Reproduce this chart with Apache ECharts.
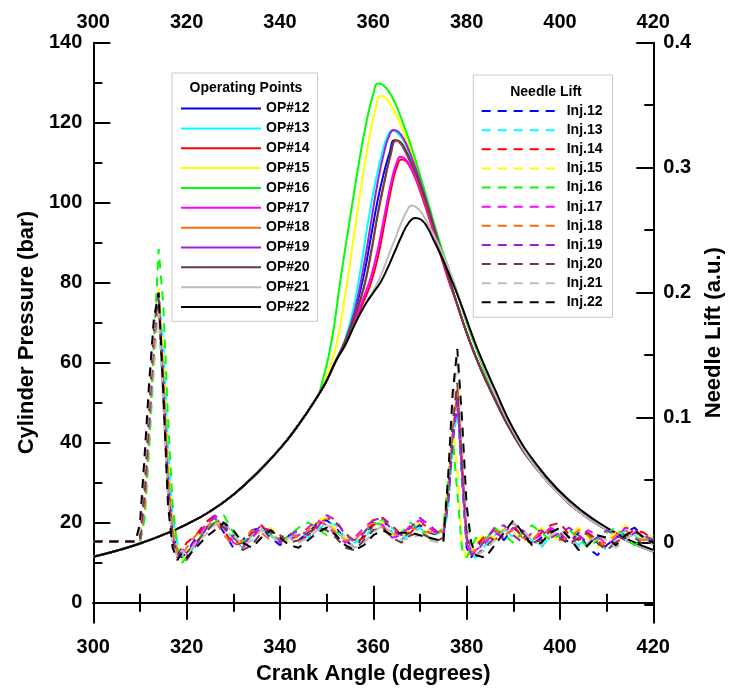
<!DOCTYPE html>
<html>
<head>
<meta charset="utf-8">
<script src="https://cdn.jsdelivr.net/npm/echarts@6/dist/echarts.min.js"></script>
<style>html,body{margin:0;padding:0;background:#fff}#chart{width:730px;height:691px}</style>
</head>
<body>
<div id="chart"></div>
<script>
// ---------- tick labels ----------
const xTicks = [300, 320, 340, 360, 380, 400, 420];
const leftTicks = [0, 20, 40, 60, 80, 100, 120, 140];
const leftMinorTicks = [10, 30, 50, 70, 90, 110, 130];
const rightTicks = [0, 0.1, 0.2, 0.3, 0.4];
const rightMinorTicks = [-0.05, 0.05, 0.15, 0.25, 0.35];

// ---------- cylinder pressure (bar) ----------
const opNames = ['OP#12','OP#13','OP#14','OP#15','OP#16','OP#17','OP#18','OP#19','OP#20','OP#21','OP#22'];
const opColors = ['#0000ff','#00ffff','#ff0000','#ffff00','#00ff00','#ff00ff','#ff6a10','#a020d8','#6b3c3c','#bdbdbd','#000000'];

// shared compression stroke
const compAngle = [300, 305, 310, 315, 320, 325, 330, 335, 340, 344, 348];
const compP     = [11.5, 13, 14.8, 17, 19.6, 22.8, 27, 32.3, 38.5, 44.5, 51.5];
// shared expansion stroke
const expAngle = [378, 380, 383, 386, 390, 395, 400, 405, 410, 415, 420];
const expP     = [74.5, 67.5, 58.5, 51, 42, 33.5, 27, 22, 18.3, 15.2, 12.8];

const op12Angle = [350,352,354,356,358,359.5,361,362.5,363.5,364.5,365.5,367,368.5,370,372,374,376];
const op12P     = [55.5,60.5,65.5,72.5,82,91.5,101,108.5,112.5,115.6,115.2,112.5,108.5,104,97,89.5,81.5];
const op13Angle = [350,352,354,356,357.5,359,360.5,362,363,364,365,366.5,368,370,372,374,376];
const op13P     = [55.5,60.5,66,75,85,96,105.5,113,116.5,118,117.6,115.5,111.5,105,97.5,89.5,81.5];
const op14Angle = [350,352,354,356,358,359.5,361,362.5,364,365,366,367,368.5,370,372,374,376];
const op14P     = [55.5,60.5,64.5,70,75.5,80,86.5,95.5,104.5,108.8,110.8,110.4,107.5,103,96,88.5,81];
const op15Angle = [350,352,354,356,358,359.5,360.5,361.5,362.5,364,366,368,370,372,374,376];
const op15P     = [56.5,64,77,93,108.5,118.5,123.5,126.7,126.4,124,119,113,106,98,90,82.5];
const op16Angle = [349,351,353,355,357,358.5,360,361,362,364,366,368,370,372,374,376,378,380,383];
const op16P     = [55,65,81,96,110.5,120,127.2,129.8,129.5,126.5,121,114.5,107,99,91,84,77.5,70,60.5];
const op17Angle = [350,352,354,356,358,359.5,361,362.5,364,365,365.8,366.8,368,370,372,374,376];
const op17P     = [55.5,60.5,65,70.5,76.5,81.5,88.5,97.5,106,110,111.5,111,109,103.5,96.5,89,81.5];
const op18Angle = [350,352,354,356,358,359.5,361,362.5,363.7,364.8,365.8,367,368.5,370,372,374,376];
const op18P     = [55.5,60.5,65.5,71.5,78.8,87.2,97.2,105.7,111.8,115.4,115,112.8,108.8,104.3,97.4,90,82];
const op19Angle = [350,352,354,356,358,359.5,361,362.5,363.5,364.3,365.3,366.5,368,370,372,374,376];
const op19P     = [55.5,60.5,65.5,73,84.5,95,105.5,113.5,117,118.2,117.8,116,112,105.5,98,90,82];
const op20Angle = [350,352,354,356,358,359.5,361,362.5,363.7,364.8,365.8,367,368.5,370,372,374,376];
const op20P     = [55.5,60.5,65.5,71.5,79,87.5,97.5,106,112,115.6,115.2,113,109,104.5,97.5,90,82];
const op21Angle = [350,352,354,356,358,360,361.5,363,364.5,366,367.2,368.2,369.2,370.5,372,374,376,378,380,383,386,390];
const op21P     = [55.5,60.5,64.5,69.5,74,78,81.5,86,90.5,95,98,99.3,98.9,97.2,94,89.5,84,77.5,70.5,61,52.5,42.8];
const op22Angle = [350,352,354,356,358,360,361.5,363,364.5,366,367.5,369,370.2,371.5,373,375,377,379,381,383,386,390,395,400,405,410,415,420];
const op22P     = [55.5,60.5,64.5,69.5,74,77.5,80,83.5,87.5,91.5,94.8,96.2,95.8,94,90.5,85.5,80,74,67.5,61.5,53.5,43.5,34.5,27.8,22.7,18.8,15.6,13.2];

const opAngles = [op12Angle,op13Angle,op14Angle,op15Angle,op16Angle,op17Angle,op18Angle,op19Angle,op20Angle,op21Angle,op22Angle];
const opPress  = [op12P,op13P,op14P,op15P,op16P,op17P,op18P,op19P,op20P,op21P,op22P];

// ---------- needle lift (a.u.) ----------
const injNames = ['Inj.12','Inj.13','Inj.14','Inj.15','Inj.16','Inj.17','Inj.18','Inj.19','Inj.20','Inj.21','Inj.22'];
const needleAngle = [300,309,310,311,312,313,314,315,316,317,318,319,320,
  322,324,326,328,330,332,334,336,338,340,342,344,346,348,350,352,354,356,358,360,362,364,366,368,370,372,374,
  375,376,377,378,379,380,381,382,
  384,386,388,390,392,394,396,398,400,402,404,406,408,410,412,414,416,418,420];

const inj12 = [0.001,0.001,0.002,0.03,0.09,0.15,0.2,0.14,0.06,0.012,-0.005,-0.012,-0.008,
  0.004,0.014,0.02,0.008,-0.004,0.002,0.01,0.012,0.004,-0.002,0.006,0.002,0.008,0.016,0.018,0.012,0.002,-0.004,0.006,0.016,0.018,0.008,0.002,0.01,0.014,0.008,0.006,
  0.008,0.03,0.08,0.112,0.05,-0.004,-0.012,-0.004,
  0.004,0.01,0.002,0.012,0.006,-0.002,0.004,0.01,0.006,0.0,0.008,-0.004,-0.01,-0.002,0.004,0.008,0.012,0.004,0.0];
const inj13 = [0.001,0.001,0.001,0.02,0.08,0.14,0.195,0.16,0.075,0.02,0.0,-0.01,-0.014,
  0.0,0.01,0.018,0.014,0.002,-0.004,0.006,0.012,0.008,0.002,0.004,0.008,0.004,0.01,0.016,0.014,0.004,0.0,0.004,0.012,0.018,0.012,0.004,0.006,0.012,0.004,0.002,
  0.004,0.025,0.075,0.11,0.055,0.0,-0.01,-0.012,
  -0.002,0.006,0.012,0.004,0.01,0.002,-0.004,0.006,0.012,0.004,-0.002,0.006,0.0,-0.006,0.002,0.01,0.006,0.0,0.004];
const inj14 = [0.001,0.001,0.002,0.03,0.095,0.16,0.2,0.13,0.05,0.008,-0.012,-0.006,0.0,
  0.006,0.016,0.022,0.01,-0.002,0.0,0.008,0.014,0.006,0.0,0.004,0.0,0.006,0.014,0.02,0.016,0.008,0.0,0.004,0.014,0.02,0.014,0.006,0.008,0.016,0.012,0.008,
  0.01,0.04,0.095,0.125,0.065,0.004,-0.008,-0.002,
  0.006,0.002,0.01,0.014,0.004,0.0,0.008,0.014,0.016,0.006,0.002,0.008,0.002,-0.004,0.0,0.006,0.01,0.008,0.002];
const inj15 = [0.001,0.001,0.001,0.025,0.085,0.15,0.205,0.15,0.065,0.015,-0.006,-0.014,-0.01,
  0.002,0.012,0.02,0.016,0.004,-0.002,0.004,0.01,0.012,0.004,0.0,0.006,0.01,0.018,0.02,0.01,0.004,0.002,0.01,0.02,0.016,0.006,0.004,0.012,0.016,0.01,0.006,
  0.01,0.045,0.09,0.06,0.0,-0.014,-0.008,0.0,
  0.008,0.004,0.012,0.008,0.0,0.006,0.012,0.006,0.0,0.006,0.012,0.004,-0.004,0.002,0.008,0.014,0.008,0.002,0.006];
const inj16 = [0.001,0.001,0.0,0.02,0.08,0.16,0.235,0.19,0.1,0.03,-0.004,-0.016,-0.012,
  0.0,0.01,0.016,0.022,0.008,0.0,0.006,0.01,0.006,0.0,0.006,0.012,0.016,0.012,0.006,0.008,0.004,0.002,0.008,0.016,0.014,0.004,0.008,0.016,0.01,0.004,0.008,
  0.012,0.05,0.085,0.04,-0.005,-0.012,-0.004,0.004,
  0.002,0.012,0.006,0.0,0.008,0.014,0.008,0.002,0.006,0.01,0.004,-0.004,0.002,0.008,0.012,0.004,-0.002,0.004,0.002];
const inj17 = [0.001,0.001,0.002,0.035,0.1,0.165,0.19,0.12,0.045,0.006,-0.01,-0.004,-0.01,
  0.002,0.014,0.02,0.012,0.0,-0.004,0.004,0.012,0.01,0.002,0.002,0.006,0.012,0.018,0.014,0.006,0.0,0.004,0.012,0.018,0.014,0.004,0.006,0.014,0.018,0.012,0.006,
  0.006,0.035,0.085,0.118,0.06,0.0,-0.01,-0.006,
  0.0,0.008,0.004,0.012,0.01,0.002,0.006,0.012,0.008,0.0,0.004,0.01,0.006,-0.002,0.004,0.012,0.01,0.004,0.0];
const inj18 = [0.001,0.001,0.001,0.028,0.092,0.155,0.198,0.135,0.055,0.01,-0.008,-0.01,-0.004,
  0.006,0.012,0.018,0.006,-0.002,0.002,0.01,0.008,0.002,0.004,0.008,0.004,0.01,0.016,0.016,0.008,0.002,0.002,0.01,0.016,0.012,0.006,0.008,0.012,0.01,0.008,0.01,
  0.008,0.035,0.09,0.12,0.062,0.002,-0.008,-0.006,
  0.004,0.01,0.006,0.01,0.004,0.002,0.01,0.008,0.002,0.004,0.01,0.006,-0.002,0.0,0.006,0.01,0.004,0.002,0.004];
const inj19 = [0.001,0.001,0.002,0.04,0.105,0.17,0.2,0.125,0.045,0.004,-0.012,-0.008,-0.014,
  -0.002,0.01,0.022,0.016,0.004,-0.002,0.006,0.014,0.008,0.0,0.006,0.01,0.006,0.012,0.022,0.018,0.006,0.002,0.008,0.018,0.02,0.01,0.006,0.012,0.02,0.014,0.008,
  0.006,0.03,0.08,0.115,0.058,0.004,-0.01,-0.008,
  0.002,0.012,0.014,0.006,0.0,0.008,0.01,0.004,0.008,0.012,0.006,0.0,0.004,0.01,0.006,0.002,0.008,0.006,0.002];
const inj20 = [0.001,0.001,0.004,0.045,0.11,0.175,0.195,0.115,0.04,0.002,-0.01,-0.004,-0.008,
  0.0,0.008,0.016,0.012,0.006,-0.006,-0.002,0.008,0.01,0.006,0.0,0.002,0.008,0.012,0.01,0.004,-0.004,-0.006,0.002,0.01,0.012,0.004,0.0,0.006,0.008,0.004,0.002,
  0.004,0.04,0.095,0.128,0.07,0.01,-0.006,-0.01,
  -0.004,0.004,0.01,0.016,0.008,0.0,0.002,0.01,0.004,-0.002,0.004,0.008,0.0,-0.006,0.0,0.006,0.004,-0.002,0.002];
const inj21 = [0.001,0.001,0.01,0.06,0.12,0.175,0.185,0.11,0.035,0.0,-0.012,-0.006,-0.01,
  0.0,0.006,0.014,0.018,0.006,-0.002,0.002,0.01,0.006,0.0,0.004,0.0,0.004,0.01,0.014,0.01,0.002,-0.004,0.0,0.008,0.014,0.008,0.002,0.004,0.006,0.002,0.0,
  0.0,0.045,0.11,0.148,0.09,0.02,-0.004,-0.01,
  -0.006,0.002,0.01,0.016,0.01,0.002,-0.002,0.006,0.01,0.004,-0.004,0.0,0.006,0.002,-0.004,0.002,0.008,0.004,-0.002];
const inj22 = [0.001,0.001,0.015,0.07,0.13,0.18,0.2,0.12,0.03,-0.004,-0.014,-0.008,-0.012,
  -0.004,0.004,0.01,0.016,0.01,0.0,-0.004,0.004,0.01,0.004,-0.002,-0.004,0.002,0.008,0.012,0.006,-0.002,-0.006,-0.002,0.006,0.01,0.006,0.008,0.008,0.006,0.004,0.002,
  0.0,0.05,0.12,0.155,0.1,0.03,0.0,-0.01,
  -0.012,-0.002,0.008,0.018,0.008,-0.002,0.0,0.008,0.012,0.004,-0.006,-0.002,0.006,0.004,-0.002,0.006,0.01,0.004,0.0];
const injValues = [inj12,inj13,inj14,inj15,inj16,inj17,inj18,inj19,inj20,inj21,inj22];

// ---------- build ----------
const FONT = '"Liberation Sans", Arial, Helvetica, sans-serif';

function pressurePoints(a, p) {
  const pts = [];
  compAngle.forEach((x, i) => { if (x < a[0]) pts.push([x, compP[i]]); });
  a.forEach((x, i) => pts.push([x, p[i]]));
  expAngle.forEach((x, i) => { if (x > a[a.length - 1]) pts.push([x, expP[i]]); });
  return pts;
}

const series = [];
opNames.forEach((name, k) => {
  series.push({
    name, type: 'line', xAxisIndex: 0, yAxisIndex: 0,
    data: pressurePoints(opAngles[k], opPress[k]),
    symbol: 'none', showSymbol: false, smooth: 0.5,
    lineStyle: { color: opColors[k], width: 2 }, itemStyle: { color: opColors[k] },
    z: 2
  });
});
injNames.forEach((name, k) => {
  series.push({
    name, type: 'line', xAxisIndex: 0, yAxisIndex: 2,
    data: needleAngle.map((x, i) => [x, injValues[k][i]]),
    symbol: 'none', showSymbol: false,
    lineStyle: { color: opColors[k], width: 2, type: [9, 7] }, itemStyle: { color: opColors[k] },
    z: 3
  });
});

const axisLine = { show: true, lineStyle: { color: '#000', width: 2 } };
const labelStyle = { color: '#000', fontSize: 20, fontWeight: 'bold', fontFamily: FONT };
const nameStyle = { color: '#000', fontSize: 22, fontWeight: 'bold', fontFamily: FONT };

const legendBase = {
  orient: 'vertical', itemWidth: 80, itemHeight: 14, selectedMode: false,
  borderColor: '#c8c8c8', borderWidth: 1, backgroundColor: '#fff',
  itemStyle: { opacity: 0 },
  textStyle: { color: '#000', fontSize: 14, fontWeight: 'bold', fontFamily: FONT }
};

const option = {
  animation: false,
  backgroundColor: '#fff',
  grid: { left: 93.3, right: 76.7, top: 42.7, bottom: 68.3, containLabel: false, outerBoundsMode: 'none' },
  xAxis: [
    { type: 'value', position: 'bottom', min: 300, max: 420, interval: 20,
      axisLine, splitLine: { show: false },
      axisTick: { show: true, inside: true, length: 17, lineStyle: { color: '#000', width: 2 } },
      minorTick: { show: true, splitNumber: 2, length: 9, lineStyle: { color: '#000', width: 2 } },
      axisLabel: Object.assign({ margin: 15, customValues: xTicks }, labelStyle),
      name: 'Crank Angle (degrees)', nameLocation: 'middle', nameGap: 35, nameTextStyle: nameStyle },
    { type: 'value', position: 'top', min: 300, max: 420, interval: 20,
      axisLine, splitLine: { show: false },
      axisTick: { show: true, inside: true, length: 17, lineStyle: { color: '#000', width: 2 } },
      minorTick: { show: true, splitNumber: 2, length: 9, lineStyle: { color: '#000', width: 2 } },
      axisLabel: Object.assign({ margin: 10, customValues: xTicks }, labelStyle) }
  ],
  yAxis: [
    { type: 'value', position: 'left', min: -5, max: 140,
      axisLine, splitLine: { show: false },
      axisTick: { show: true, inside: true, length: 17, customValues: leftTicks, lineStyle: { color: '#000', width: 2 } },
      axisLabel: Object.assign({ margin: 11, customValues: leftTicks }, labelStyle),
      name: 'Cylinder Pressure (bar)', nameLocation: 'middle', nameGap: 51, nameTextStyle: nameStyle },
    { type: 'value', position: 'left', min: -5, max: 140,
      axisLine: { show: false }, splitLine: { show: false },
      axisTick: { show: true, inside: true, length: 9, customValues: leftMinorTicks, lineStyle: { color: '#000', width: 2 } },
      axisLabel: { show: false } },
    { type: 'value', position: 'right', min: -0.064, max: 0.4,
      axisLine, splitLine: { show: false },
      axisTick: { show: true, inside: true, length: 17, customValues: rightTicks, lineStyle: { color: '#000', width: 2 } },
      axisLabel: Object.assign({ margin: 10, customValues: rightTicks,
        formatter: v => (Math.abs(v) < 1e-9 ? '0' : v.toFixed(1)) }, labelStyle),
      name: 'Needle Lift (a.u.)', nameLocation: 'middle', nameGap: 50, nameTextStyle: nameStyle },
    { type: 'value', position: 'right', min: -0.064, max: 0.4,
      axisLine: { show: false }, splitLine: { show: false },
      axisTick: { show: true, inside: true, length: 9, customValues: rightMinorTicks, lineStyle: { color: '#000', width: 2 } },
      axisLabel: { show: false } }
  ],
  legend: [
    Object.assign({}, legendBase, { data: opNames, left: 172, top: 73, itemGap: 5.84,
      padding: [28.6, 8, 7.3, 8] }),
    Object.assign({}, legendBase, { data: injNames, left: 473.3, top: 75, itemGap: 5.13,
      padding: [29, 10, 8, 7.4] })
  ],
  graphic: [
    { type: 'text', x: 246, y: 88, z: 100,
      style: { text: 'Operating Points', align: 'center', verticalAlign: 'middle', fontSize: 14, fontWeight: 'bold', fontFamily: FONT, fill: '#000' } },
    { type: 'text', x: 546, y: 92, z: 100,
      style: { text: 'Needle Lift', align: 'center', verticalAlign: 'middle', fontSize: 14, fontWeight: 'bold', fontFamily: FONT, fill: '#000' } }
  ],
  series
};

const chart = echarts.init(document.getElementById('chart'), null, { renderer: 'canvas' });
chart.setOption(option);
</script>
</body>
</html>
